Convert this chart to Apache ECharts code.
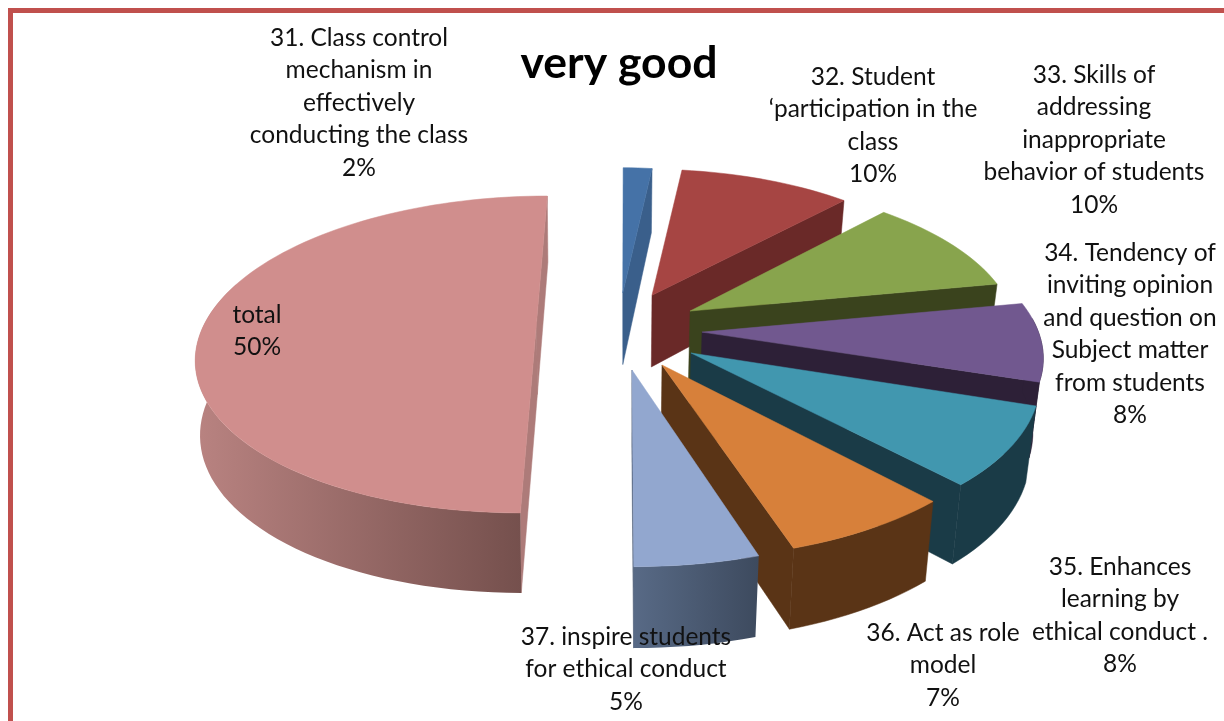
<!DOCTYPE html>
<html>
<head>
<meta charset="utf-8">
<script src="https://cdn.jsdelivr.net/npm/echarts@6/dist/echarts.min.js"></script>
<style>html,body{margin:0;padding:0;background:#fff}#c{width:1224px;height:721px}</style>
</head>
<body>
<div id="c"></div>
<script>
// ---- data ----
const chartTitle = 'very good';
const categories = [
  ['31. Class control', 'mechanism in', 'effectively', 'conducting the class'],
  ['32. Student', '\u2018participation in the', 'class'],
  ['33. Skills of', 'addressing', 'inappropriate', 'behavior of students'],
  ['34. Tendency of', 'inviting opinion', 'and question on', 'Subject matter', 'from students'],
  ['35. Enhances', 'learning by', 'ethical conduct .'],
  ['36. Act as role', 'model'],
  ['37. inspire students', 'for ethical conduct'],
  ['total']
];
const values = [2, 10, 10, 8, 8, 7, 5, 50];

// ---- styling ----
const topColors = ['#4572a7', '#a64543', '#88a44d', '#71588f', '#4197af', '#d7803a', '#92a7cf', '#d08e8d'];
const cutColors = ['#3a5f8b', '#6a2928', '#3a431d', '#2d2037', '#1a3b47', '#5a3416', '#4a5a74', '#ad7b79'];
const rimStart  = ['#3a5f8b', '#6a2928', '#3a431d', '#2d2037', '#1a3b47', '#5a3416', '#586a86', '#b98381'];
const rimEnd    = ['#3a5f8b', '#6a2928', '#3a431d', '#2d2037', '#1a3b47', '#5a3416', '#3d4a5e', '#75504d'];

// ---- layout: exploded offsets (fractions of radius), perspective and label anchors ----
const explodeU = [-0.007, 0.0836, 0.197, 0.2266, 0.1888, 0.1042, 0.0196, -0.185];
const explodeV = [-0.196, -0.18, -0.07, 0.069, 0.199, 0.271, 0.3, 0];
const bulge    = [0.09, 0.09, 0.09, 0.09, 0.09, 0.09, 0.09, 0];
const widthU   = [0.8, 0.96, 0.975, 0.99, 0.985, 0.99, 1, 0.988];
const vanishX  = [625, 625, 625, 625, 625, 625, 625, 598.6];
const converge = [0.025, 0.025, 0.025, 0.025, 0.025, 0.025, 0.025, 0.012];
const labelX   = [359, 873, 1094, 1130, 1120, 943, 626, 257];
const labelY   = [38, 77, 75, 253, 567, 633, 637, 315];
const LINE = 32.5;
const Y0 = 321.5, R = 335, S = 151.6, P = 0.208;
const total = values.reduce((a, b) => a + b, 0);

function proj(i, u, v, low) {
  const k = 1 / (1 - P * v), xv = vanishX[i];
  let x = xv + R * u * k, y = Y0 + S * v * k;
  if (low) { x += (xv - x) * converge[i]; y += 73 + 7 * v; }
  return [x, y];
}
function rimPoint(i, deg, low) {
  const t = deg * Math.PI / 180, r = 1 + bulge[i] * Math.cos(t);
  return proj(i, explodeU[i] + widthU[i] * r * Math.sin(t), explodeV[i] - r * Math.cos(t), low);
}
function arc(i, a, b, low) {
  const pts = [], n = Math.max(2, Math.ceil(Math.abs(b - a) / 2));
  for (let s = 0; s <= n; s++) pts.push(rimPoint(i, a + (b - a) * s / n, low));
  return pts;
}
function area(p) {
  let s = 0;
  for (let j = 0; j < p.length; j++) { const q = p[(j + 1) % p.length]; s += p[j][0] * q[1] - q[0] * p[j][1]; }
  return s / 2;
}
// total is painted first, so it sits behind everything else
function order(i) { return i === values.length - 1 ? 0 : i + 1; }

function renderItem(params, api) {
  const i = params.dataIndex, value = api.value(0);
  let before = 0;
  for (let j = 0; j < i; j++) before += values[j];
  const a = before / total * 360, b = (before + value) / total * 360;
  const base = order(i) * 10, kids = [];
  const tipT = proj(i, explodeU[i], explodeV[i], false), tipB = proj(i, explodeU[i], explodeV[i], true);
  const poly = (pts, fill, z) => kids.push({
    type: 'polygon', shape: { points: pts }, z2: base + z,
    style: { fill: fill, stroke: typeof fill === 'string' ? fill : null, lineWidth: typeof fill === 'string' ? 0.5 : 0 }
  });
  const startFace = [tipT, rimPoint(i, a, false), rimPoint(i, a, true), tipB];
  const endFace = [tipT, rimPoint(i, b, false), rimPoint(i, b, true), tipB];
  if (area(startFace) < 0 || i === values.length - 1) poly(startFace, cutColors[i], 1);
  if (area(endFace) > 0) poly(endFace, cutColors[i], 1);
  const ra = Math.max(a, 85), rb = Math.min(b, 285);
  if (rb > ra) {
    const rim = arc(i, ra, rb, false).concat(arc(i, ra, rb, true).reverse());
    const fill = rimStart[i] === rimEnd[i] ? rimStart[i] :
      new echarts.graphic.LinearGradient(1, 0, 0, 0, [{ offset: 1, color: rimStart[i] }, { offset: 0, color: rimEnd[i] }]);
    poly(rim, fill, 2);
  }
  poly([tipT].concat(arc(i, a, b, false)), topColors[i], 3);
  const text = categories[i].concat([Math.round(value) + '%']).join('\n');
  kids.push({
    type: 'text', z2: 1000,
    style: {
      text: text, x: labelX[i], y: labelY[i] - LINE / 2, align: 'center', verticalAlign: 'top',
      fontFamily: 'Lato', fontSize: 24.5, lineHeight: LINE, fill: '#111'
    }
  });
  return { type: 'group', children: kids };
}

const chart = echarts.init(document.getElementById('c'), null, { renderer: 'canvas' });
chart.setOption({
  animation: false,
  backgroundColor: '#fff',
  title: {
    text: chartTitle, left: 614, top: 36, textAlign: 'center',
    textStyle: { fontFamily: 'Lato', fontWeight: 'bold', fontSize: 44.5, color: '#000' }
  },
  graphic: [
    { type: 'rect', shape: { x: 8, y: 8, width: 1216, height: 5 }, style: { fill: '#c0504d' } },
    { type: 'rect', shape: { x: 8, y: 8, width: 5, height: 713 }, style: { fill: '#c0504d' } }
  ],
  series: [{
    type: 'custom', coordinateSystem: 'none', renderItem: renderItem,
    data: values.map(v => [v]), silent: true
  }]
});
</script>
</body>
</html>
